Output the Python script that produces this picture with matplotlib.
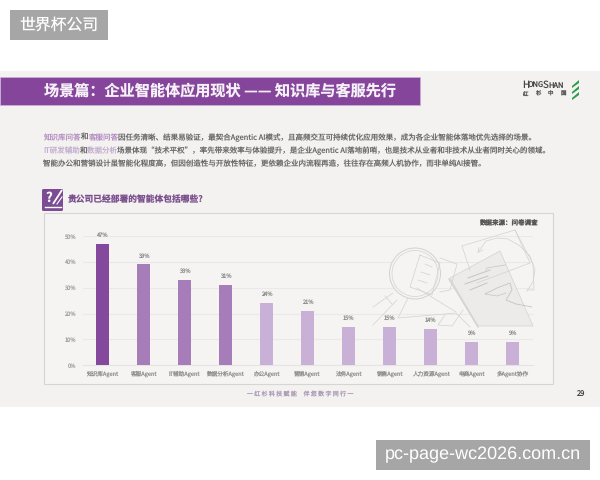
import matplotlib
matplotlib.use("Agg")
import matplotlib.pyplot as plt
from matplotlib.patches import Circle, FancyBboxPatch, PathPatch, Polygon, Rectangle
from matplotlib.path import Path

plt.rcParams['font.family'] = ['Noto Sans CJK SC', 'DejaVu Sans']
plt.rcParams['text.hinting'] = 'no_hinting'
plt.rcParams['text.hinting_factor'] = 1

categories = ['知识库Agent', '客服Agent', 'IT辅助Agent', '数据分析Agent', '办公Agent', '营销Agent',
              '法务Agent', '销售Agent', '人力资源Agent', '电商Agent', '多Agent协作']
values = [47, 39, 33, 31, 24, 21, 15, 15, 14, 9, 9]
y_ticks = [0, 10, 20, 30, 40, 50]

title = '场景篇：企业智能体应用现状 —— 知识库与客服先行'
question = '贵公司已经部署的智能体包括哪些?'
source = '数据来源：问卷调查'
footer = '一 红 杉 科 技 赋 能     伴 您 数 字 同 行 一'
page_no = '29'

PURPLE = '#84459b'
BAR_DARK = '#84489c'
BAR_MID = '#a67db9'
BAR_LIGHT = '#c8b0d6'
PAGE_BG = '#f4f2f0'
GREY_BOX = '#a6a6a6'
SKETCH = '#d2d2d0'
TEXT = '#6a6a6a'
BODY_SIZE = 5.42

W, H = 600, 480
fig = plt.figure(figsize=(W / 100, H / 100), dpi=100, facecolor='white')


def page_axes(zorder):
    # full-page axes in pixel units, y pointing down
    a = fig.add_axes([0, 0, 1, 1], zorder=zorder)
    a.set_xlim(0, W)
    a.set_ylim(H, 0)
    a.axis('off')
    a.patch.set_alpha(0)
    return a


bg = page_axes(0)
bg.add_patch(Rectangle((0, 71), W, 336, fc=PAGE_BG, ec='none'))
bg.add_patch(Rectangle((0, 77), 420, 28, fc=PURPLE, ec='#c9b3d6', lw=0.5))
bg.text(44, 91, title, color='#f6f1f8', fontsize=10.9, fontweight='bold', va='center', ha='left')

# body paragraph, first runs of the two upper lines are highlighted
line_y = [137.5, 151, 164]
bg.text(43, line_y[0], '知识库问答', color='#b48ec2', fontsize=BODY_SIZE, va='center')
bg.text(80, line_y[0], '和', color=TEXT, fontsize=BODY_SIZE, va='center')
bg.text(88, line_y[0], '客服问答', color='#b48ec2', fontsize=BODY_SIZE, va='center')
bg.text(118, line_y[0], '因任务清晰、结果易验证，最契合Agentic AI模式，且高频交互可持续优化应用效果，成为各企业智能体落地优先选择的场景。',
        color=TEXT, fontsize=BODY_SIZE, va='center')
bg.text(43, line_y[1], 'IT研发辅助', color='#c3aed0', fontsize=BODY_SIZE, va='center')
bg.text(79, line_y[1], '和', color=TEXT, fontsize=BODY_SIZE, va='center')
bg.text(87, line_y[1], '数据分析', color='#c3aed0', fontsize=BODY_SIZE, va='center')
bg.text(117, line_y[1], '场景体现“技术平权”，率先带来效率与体验提升，是企业Agentic AI落地前哨，也是技术从业者和非技术从业者同时关心的领域。',
        color=TEXT, fontsize=BODY_SIZE, va='center')
bg.text(43, line_y[2], '智能办公和营销设计虽智能化程度高，但因创造性与开放性特征，更依赖企业内流程再造，往往存在高频人机协作，而非单纯AI接管。',
        color=TEXT, fontsize=BODY_SIZE, va='center')

# question icon
bg.add_patch(FancyBboxPatch((42, 189), 21, 22, boxstyle='round,pad=0,rounding_size=1.5', fc='#7b4b94', ec='none'))
bg.text(48.5, 198, '?', color='white', fontsize=9.5, fontweight='bold', ha='center', va='center')
bg.plot([53, 62], [204, 190], color='white', lw=1.3, solid_capstyle='butt')
bg.plot([57, 62], [204, 197], color='white', lw=0.8)
bg.plot([45, 61], [207, 207], color='white', lw=1)
bg.text(68, 199.5, question, color='#7a4f8d', fontsize=6.3, fontweight='bold', va='center')

# chart frame
bg.add_patch(Rectangle((44, 213), 509, 171, fc='#f5f4f2', ec='#d6d5d3', lw=0.8))
bg.text(538, 223, source, color='#555555', fontsize=4.7, fontweight='bold', ha='right', va='center')

# logo
bg.text(522, 85, 'H', color='#444444', fontsize=7, va='center')
bg.text(528, 85.5, 'ONG', color='#444444', fontsize=5.4, va='center')
bg.text(543, 85, 'S', color='#444444', fontsize=7, va='center')
bg.text(548.5, 85.5, 'HAN', color='#444444', fontsize=5.4, va='center')
for i, ch in enumerate('红杉中国'):
    bg.text(525 + i * 12.7, 94, ch, color='#555555', fontsize=3.9, ha='center', va='center')
for y0 in (86, 92, 98):
    bg.add_patch(Polygon([(572, y0), (579, y0 - 6), (579, y0 - 3), (572, y0 + 2)], fc='#2e9a4e', ec='none'))

bg.text(300, 395, footer, color='#ad9cb6', fontsize=4.3, ha='center', va='center')
bg.text(581, 395, page_no, color='#444444', fontsize=5.4, ha='center', va='center')

# chart area, placed so the plot spans the page pixels of the frame interior
x_left, x_right = 83, 533
y_zero, y_top = 365.3, 236
ax = fig.add_axes([x_left / W, 1 - y_zero / H, (x_right - x_left) / W, (y_zero - y_top) / H], zorder=1)
ax.patch.set_alpha(0)
xs = list(range(len(categories)))
colors = [BAR_DARK] + [BAR_MID] * 3 + [BAR_LIGHT] * 7
ax.bar(xs, values, width=0.315, color=colors, zorder=3)
for x, v in zip(xs, values):
    ax.text(x, v + 2.2, f'{v}%', color='#8c8c8c', fontsize=4.1, ha='center', va='bottom', zorder=4)
ax.set_xlim(-0.47, 10.49)
ax.set_ylim(0, 50)
ax.set_yticks(y_ticks)
ax.set_yticklabels([f'{t}%' for t in y_ticks], color='#a0a0a0', fontsize=4.1)
ax.set_xticks(xs)
ax.set_xticklabels(categories, color='#909090', fontsize=4.05)
ax.tick_params(length=0, pad=4)
ax.tick_params(axis='y', pad=5)
ax.grid(axis='y', color='#ebe9e8', lw=0.8, zorder=0)
ax.set_axisbelow(True)
ax.spines[['top', 'right', 'left']].set_visible(False)
ax.spines['bottom'].set_color('#e6e4e3')
ax.spines['bottom'].set_linewidth(0.8)

# line drawing of a magnifier and a tablet in the upper right of the frame
top = page_axes(2)


def sketch(points, closed=False, lw=0.5, color=SKETCH):
    xs_ = [p[0] for p in points]
    ys_ = [p[1] for p in points]
    if closed:
        xs_.append(xs_[0])
        ys_.append(ys_[0])
    top.plot(xs_, ys_, color=color, lw=lw, solid_joinstyle='round')


top.add_patch(Polygon([(450, 278), (500, 251), (533, 326), (478, 326)], fc='#ecebe9', ec=SKETCH, lw=0.5))
sketch([(449, 279), (478, 327)], lw=1.0)
top.add_patch(Circle((415, 273.5), 25.5, fc='#f5f4f2', ec=SKETCH, lw=0.7))
top.add_patch(Circle((415, 273.5), 23, fc='none', ec=SKETCH, lw=0.5))
sketch([(420, 255), (440, 263), (432, 295), (410, 287)], closed=True)
sketch([(440, 258), (457, 264), (450, 290), (440, 292)])
sketch([(425, 264), (432, 267)])
sketch([(421, 272), (430, 275)])
sketch([(418, 280), (427, 283)])
sketch([(393, 293), (373, 307)])
sketch([(397, 300), (373, 325)])
sketch([(385, 296), (392, 304)])
sketch([(408, 298), (398, 318), (456, 313), (470, 327)])
sketch([(417, 288), (456, 312)])
sketch([(445, 315), (438, 325), (452, 326), (463, 310)])
sketch([(462, 246), (515, 230), (530, 263), (477, 283)])
sketch([(462, 246), (470, 270)])
sketch([(515, 230), (533, 264), (534, 290), (527, 290)])
sketch([(478, 252), (486, 241), (497, 238), (508, 239), (520, 246), (530, 256), (535, 270),
        (533, 282), (527, 291)])
sketch([(478, 252), (478, 247)])
sketch([(478, 252), (483, 250)])
sketch([(486, 270), (487, 268), (505, 265)], color='#c4c4c2')
sketch([(468, 278), (490, 270)], color='#c4c4c2', lw=0.7)
sketch([(465, 284), (488, 276)], color='#c4c4c2', lw=0.7)
sketch([(470, 290), (487, 283)], color='#c4c4c2', lw=0.7)
hand = Path([(485, 294), (497, 288), (510, 283), (512, 290), (506, 300), (516, 304), (532, 307)],
            [Path.MOVETO] + [Path.LINETO] * 6)
top.add_patch(PathPatch(hand, fc='none', ec='#c4c4c2', lw=0.6))
sketch([(485, 294), (497, 296), (506, 293)], color='#c4c4c2')

# site labels in the two grey boxes
top.add_patch(Rectangle((10, 10), 98, 30, fc=GREY_BOX, ec='none'))
top.text(59, 25.5, '世界杯公司', color='white', fontsize=11.4, fontweight='light', ha='center', va='center')
top.add_patch(Rectangle((376, 440), 214, 30, fc=GREY_BOX, ec='none'))
top.text(483, 455, 'pc-page-wc2026.com.cn', color='white', fontsize=12.9, family='Liberation Sans',
         ha='center', va='center')

fig.savefig('out.png', dpi=100, facecolor='white')
